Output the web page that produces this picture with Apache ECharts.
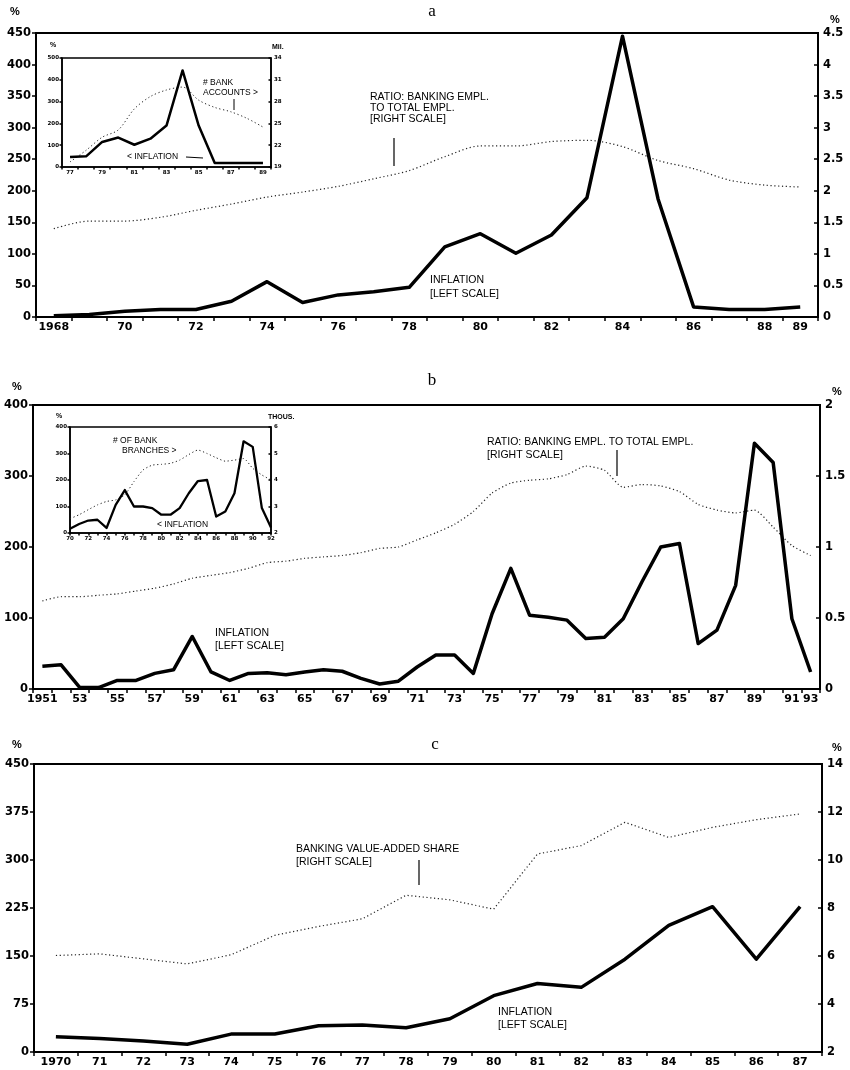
<!DOCTYPE html>
<html>
<head>
<meta charset="utf-8">
<title>Inflation and banking</title>
<script src="https://cdn.jsdelivr.net/npm/echarts@6/dist/echarts.min.js"></script>
<style>
  html, body { margin: 0; padding: 0; background: #fff; }
  #main { width: 850px; height: 1070px; }
</style>
</head>
<body>
<div id="main"></div>
<script>
// ---- panel a : 1968-89 ----
var yearsA = [1968,1969,1970,1971,1972,1973,1974,1975,1976,1977,1978,1979,1980,1981,1982,1983,1984,1985,1986,1987,1988,1989];
var inflationA = [2,4,9,12,12,25,56,23,35,40,47,111,132,101,130,189,445,187,16,12,12,16];
var ratioA = [1.40,1.52,1.52,1.58,1.69,1.79,1.90,1.98,2.07,2.19,2.32,2.54,2.71,2.71,2.78,2.80,2.70,2.48,2.35,2.17,2.09,2.06];

// inset a : 1977-89
var yearsAi = [1977,1978,1979,1980,1981,1982,1983,1984,1985,1986,1987,1988,1989];
var inflationAi = [46,49,115,135,102,130,190,443,190,18,18,18,18];
var accountsAi = [19.7,21.3,23.1,24.1,27.0,28.7,29.6,30.0,28.2,27.2,26.6,25.7,24.5];
var accountsTicks = [19,22,25,28,31,34];

// ---- panel b : 1951-93 ----
var yearsB = [1951,1952,1953,1954,1955,1956,1957,1958,1959,1960,
              1961,1962,1963,1964,1965,1966,1967,1968,1969,1970,
              1971,1972,1973,1974,1975,1976,1977,1978,1979,1980,
              1981,1982,1983,1984,1985,1986,1987,1988,1989,1990,1991,1993];
var inflationB = [32,34,2,2,12,12,22,27,74,24,
                  12,22,23,20,24,27,25,15,7,11,
                  31,48,48,22,106,170,104,101,97,71,
                  73,99,151,200,205,64,83,146,346,319,99,24];
var ratioB = [0.62,0.65,0.65,0.66,0.67,0.69,0.71,0.74,0.78,0.80,
              0.82,0.85,0.89,0.90,0.92,0.93,0.94,0.96,0.99,1.00,
              1.05,1.10,1.16,1.25,1.38,1.45,1.47,1.48,1.51,1.57,
              1.54,1.42,1.44,1.43,1.39,1.30,1.26,1.24,1.26,1.14,1.01,0.94];

// inset b : 1970-92
var yearsBi = [1970,1971,1972,1973,1974,1975,1976,1977,1978,1979,1980,1981,1982,1983,1984,1985,1986,1987,1988,1989,1990,1991,1992];
var inflationBi = [16,34,47,50,19,106,162,100,100,94,69,69,94,150,196,200,62,81,150,346,325,94,21];
var branchesBi = [2.54,2.69,2.88,3.06,3.19,3.25,3.44,3.94,4.38,4.56,4.59,4.63,4.75,4.96,5.13,5.00,4.84,4.71,4.75,4.81,4.44,4.19,4.00];

// ---- panel c : 1970-87 ----
var yearsC = [1970,1971,1972,1973,1974,1975,1976,1977,1978,1979,1980,1981,1982,1983,1984,1985,1986,1987];
var inflationC = [24,21,17,12,28,28,41,42,38,52,88,107,101,145,198,227,145,227];
var shareC = [6.02,6.09,5.88,5.67,6.05,6.86,7.23,7.55,8.53,8.34,7.95,10.25,10.6,11.57,10.94,11.36,11.68,11.92];

var FONT = '"Liberation Sans", Arial, sans-serif';
var TICKFONT = '"DejaVu Sans", sans-serif';
var BLACK = '#000';

function yr2(v, i) { return i === 0 ? String(v) : String(v).slice(2); }

function catAxis(grid, years, opts) {
    return {
        gridIndex: grid, type: 'category', data: years.map(String),
        boundaryGap: opts.gap !== false,
        axisLine: { show: true, lineStyle: { color: BLACK, width: opts.lw || 2 } },
        axisTick: { show: true, interval: 0, length: opts.tick || 4, lineStyle: { color: BLACK, width: 1.5 } },
        axisLabel: { interval: opts.show, formatter: opts.fmt || yr2, margin: opts.margin || 5,
                     fontSize: opts.fs || 11, fontWeight: 'bold', color: BLACK, fontFamily: TICKFONT },
        splitLine: { show: false }, z: opts.z || 2
    };
}

function valAxis(grid, pos, min, max, interval, opts) {
    opts = opts || {};
    var ax = {
        gridIndex: grid, type: 'value', position: pos, min: min, max: max,
        axisLine: { show: true, lineStyle: { color: BLACK, width: opts.lw || 2 } },
        axisTick: { show: true, length: opts.tick || 4, inside: pos === 'right', lineStyle: { color: BLACK, width: 1.5 } },
        axisLabel: { margin: opts.margin || 5, fontSize: opts.fs || 11.5, fontWeight: 'bold', color: BLACK, fontFamily: TICKFONT },
        splitLine: { show: false }, z: opts.z || 2
    };
    if (interval) ax.interval = interval;
    if (opts.ticks) {
        ax.axisLabel.customValues = opts.ticks;
        ax.axisTick.customValues = opts.ticks;
    }
    return ax;
}

function line(x, y, data, kind, width, smooth, z) {
    return {
        type: 'line', xAxisIndex: x, yAxisIndex: y, data: data,
        symbol: 'none', smooth: smooth || false, z: z || 3, silent: true,
        lineStyle: { color: kind === 'dot' ? '#222' : BLACK, width: width,
                     type: kind === 'dot' ? [1.2, 2.6] : 'solid', join: 'round' }
    };
}

function txt(x, y, s, size, extra) {
    var el = { type: 'text', x: x, y: y, z: 50,
        style: { text: s, font: (size || 10.5) + 'px ' + FONT, fill: BLACK, verticalAlign: 'middle', align: 'left' } };
    if (extra) for (var k in extra) el.style[k] = extra[k];
    return el;
}
function seg(x1, y1, x2, y2, w) {
    return { type: 'line', z: 50, shape: { x1: x1, y1: y1, x2: x2, y2: y2 }, style: { stroke: BLACK, lineWidth: w || 1.2 } };
}

var gridStyle = { show: true, borderColor: BLACK, borderWidth: 2, backgroundColor: 'transparent' };
var small = { fs: 5.5, tick: 2.5, lw: 1.5, margin: 3, z: 12 };

var option = {
    animation: false,
    backgroundColor: '#fff',
    grid: [
        Object.assign({ left: 36, right: 32, top: 33, height: 284 }, gridStyle),
        Object.assign({ left: 62, right: 579, top: 58, height: 109, z: 10 }, gridStyle, { borderWidth: 1.5 }),
        Object.assign({ left: 33, right: 30, top: 405, height: 284 }, gridStyle),
        Object.assign({ left: 70, right: 579, top: 427, height: 106, z: 10 }, gridStyle, { borderWidth: 1.5 }),
        Object.assign({ left: 34, right: 28, top: 764, height: 288 }, gridStyle)
    ],
    xAxis: [
        catAxis(0, yearsA, { show: function (i, v) { return (+v) % 2 === 0 || +v === 1989; } }),
        catAxis(1, yearsAi, Object.assign({ show: function (i, v) { return (+v) % 2 === 1; },
                                            fmt: function (v) { return v.slice(2); } }, small)),
        catAxis(2, yearsB, { show: function (i) { return i % 2 === 0 || i === yearsB.length - 1; } }),
        catAxis(3, yearsBi, Object.assign({ gap: false, show: function (i, v) { return (+v) % 2 === 0; },
                                            fmt: function (v) { return v.slice(2); } }, small)),
        catAxis(4, yearsC, { show: 0 })
    ],
    yAxis: [
        valAxis(0, 'left', 0, 450, 50),
        valAxis(0, 'right', 0, 4.5, 0.5),
        valAxis(1, 'left', 0, 500, 100, small),
        valAxis(1, 'right', 19, 34, null, Object.assign({ ticks: accountsTicks }, small)),
        valAxis(2, 'left', 0, 400, 100),
        valAxis(2, 'right', 0, 2, 0.5),
        valAxis(3, 'left', 0, 400, 100, small),
        valAxis(3, 'right', 2, 6, 1, small),
        valAxis(4, 'left', 0, 450, 75),
        valAxis(4, 'right', 2, 14, 2)
    ],
    series: [
        line(0, 1, ratioA, 'dot', 1.2, 0.3),
        line(0, 0, inflationA, 'solid', 3.5),
        line(1, 3, accountsAi, 'dot', 1, 0.3, 13),
        line(1, 2, inflationAi, 'solid', 2.5, false, 13),
        line(2, 5, ratioB, 'dot', 1.2, 0.2),
        line(2, 4, inflationB, 'solid', 3.5),
        line(3, 7, branchesBi, 'dot', 1, 0.2, 13),
        line(3, 6, inflationBi, 'solid', 2.3, false, 13),
        line(4, 9, shareC, 'dot', 1.2),
        line(4, 8, inflationC, 'solid', 3.5)
    ],
    graphic: [
        // panel a
        txt(432, 12, 'a', 17, { font: '17px "Liberation Serif", serif', align: 'center' }),
        txt(10, 12, '%', 11, { font: 'bold 11px ' + FONT }),
        txt(830, 20, '%', 11, { font: 'bold 11px ' + FONT }),
        txt(370, 97, 'RATIO: BANKING EMPL.'),
        txt(370, 108, 'TO TOTAL EMPL.'),
        txt(370, 119, '[RIGHT SCALE]'),
        seg(394, 138, 394, 166),
        txt(430, 280, 'INFLATION'),
        txt(430, 294, '[LEFT SCALE]'),
        // inset a
        txt(50, 45, '%', 7, { font: 'bold 7px ' + FONT }),
        txt(272, 47, 'Mil.', 7, { font: 'bold 7px ' + FONT }),
        txt(203, 83, '# BANK', 8.5),
        txt(203, 93, 'ACCOUNTS >', 8.5),
        seg(234, 99, 234, 110, 1),
        txt(127, 157, '< INFLATION', 8.5),
        seg(186, 157, 203, 158, 1),
        // panel b
        txt(432, 381, 'b', 17, { font: '17px "Liberation Serif", serif', align: 'center' }),
        txt(12, 387, '%', 11, { font: 'bold 11px ' + FONT }),
        txt(832, 392, '%', 11, { font: 'bold 11px ' + FONT }),
        txt(487, 442, 'RATIO: BANKING EMPL. TO TOTAL EMPL.'),
        txt(487, 455, '[RIGHT SCALE]'),
        seg(617, 450, 617, 476),
        txt(215, 633, 'INFLATION'),
        txt(215, 646, '[LEFT SCALE]'),
        // inset b
        txt(56, 416, '%', 7, { font: 'bold 7px ' + FONT }),
        txt(268, 417, 'THOUS.', 7, { font: 'bold 7px ' + FONT }),
        txt(113, 441, '# OF BANK', 8.5),
        txt(122, 451, 'BRANCHES >', 8.5),
        txt(157, 525, '< INFLATION', 8.5),
        // panel c
        txt(435, 745, 'c', 17, { font: '17px "Liberation Serif", serif', align: 'center' }),
        txt(12, 745, '%', 11, { font: 'bold 11px ' + FONT }),
        txt(832, 748, '%', 11, { font: 'bold 11px ' + FONT }),
        txt(296, 849, 'BANKING VALUE-ADDED SHARE'),
        txt(296, 862, '[RIGHT SCALE]'),
        seg(419, 860, 419, 885),
        txt(498, 1012, 'INFLATION'),
        txt(498, 1025, '[LEFT SCALE]')
    ]
};

var chart = echarts.init(document.getElementById('main'), null, { renderer: 'canvas' });
chart.setOption(option);
</script>
</body>
</html>
